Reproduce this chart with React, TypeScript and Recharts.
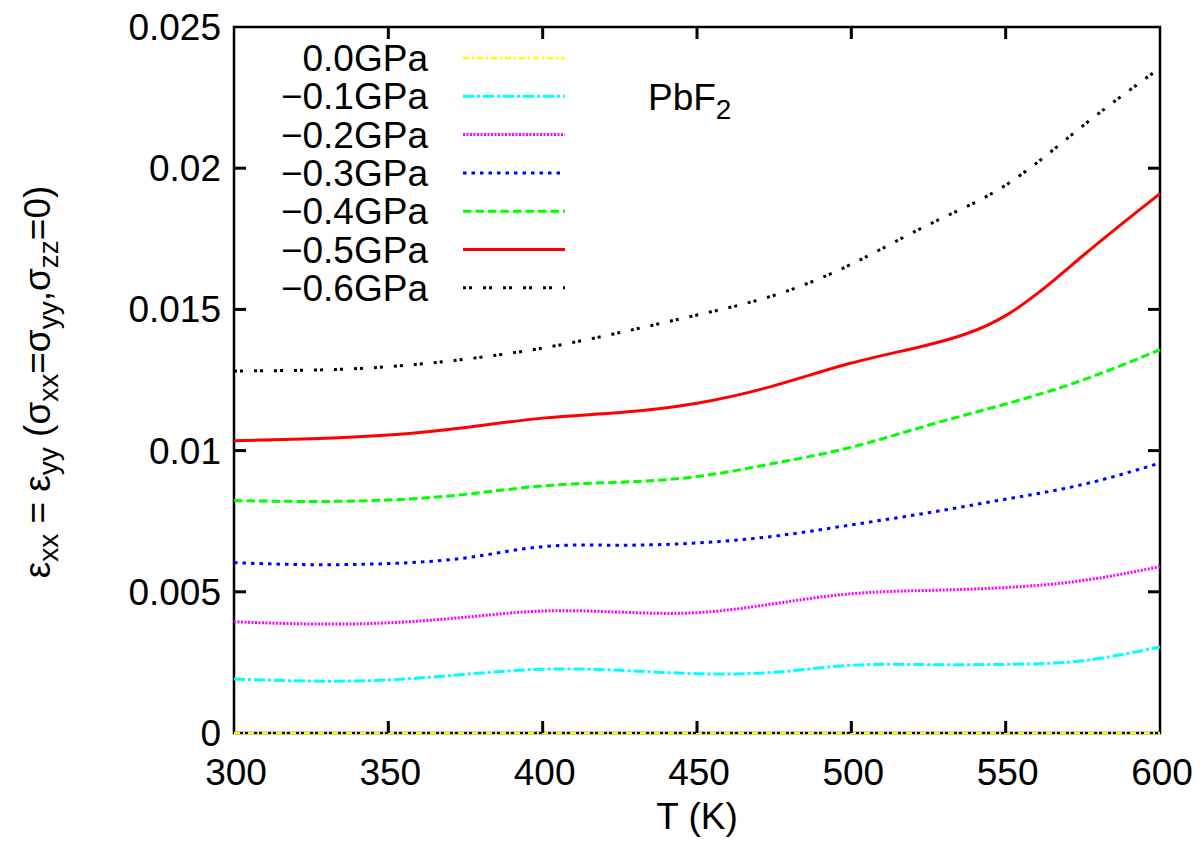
import { LineChart, Line, XAxis, YAxis, Legend, Label, ReferenceArea } from 'recharts';

const FONT = '"Liberation Sans", Arial, Helvetica, sans-serif';
const FS = 37;

const CHART_W = 1204;
const CHART_H = 853;
const MARGIN = { top: 27, right: 44, bottom: 0, left: 100 };
const Y_AXIS_W = 134;
const X_AXIS_H = 120;
const PLOT = {
  left: MARGIN.left + Y_AXIS_W,
  right: CHART_W - MARGIN.right,
  top: MARGIN.top,
  bottom: CHART_H - MARGIN.bottom - X_AXIS_H,
};
const TICK_LEN = 12;

// temperature grid (K)
const TEMPS = [300, 325, 350, 375, 400, 425, 450, 475, 500, 525, 550, 575, 600];

// strain values
const P00 = [0, 0, 0, 0, 0, 0, 0, 0, 0, 0, 0, 0, 0];
const P01 = [0.00191, 0.00184, 0.00188, 0.00208, 0.00226, 0.00222, 0.0021, 0.00215, 0.0024, 0.00242, 0.00243, 0.00256, 0.00305];
const P02 = [0.00394, 0.00386, 0.0039, 0.0041, 0.00432, 0.00428, 0.00426, 0.00458, 0.00493, 0.00505, 0.00515, 0.0054, 0.00589];
const P03 = [0.00603, 0.00596, 0.006, 0.0062, 0.0066, 0.00665, 0.00673, 0.00697, 0.00737, 0.0078, 0.00828, 0.0088, 0.00956];
const P04 = [0.00823, 0.0082, 0.00825, 0.00845, 0.00875, 0.00888, 0.00908, 0.00955, 0.01012, 0.0109, 0.01165, 0.0125, 0.01357];
const P05 = [0.01035, 0.01042, 0.01055, 0.01082, 0.01115, 0.01135, 0.01168, 0.0123, 0.0131, 0.01375, 0.01478, 0.0169, 0.0191];
const P06 = [0.01282, 0.01285, 0.01297, 0.01324, 0.01363, 0.01418, 0.0148, 0.0155, 0.0166, 0.018, 0.0194, 0.0215, 0.02355];

const X_TICKS = [300, 350, 400, 450, 500, 550, 600];
const Y_TICKS = [0, 0.005, 0.01, 0.015, 0.02, 0.025];
const X_DOMAIN: [number, number] = [300, 600];
const Y_DOMAIN: [number, number] = [0, 0.025];

const SERIES = [
  { key: 'p00', name: '0.0GPa', values: P00, color: '#ffff00', dash: '6 3 2 3', width: 2.5 },
  { key: 'p01', name: '\u22120.1GPa', values: P01, color: '#00ffff', dash: '11 3 3 3', width: 3 },
  { key: 'p02', name: '\u22120.2GPa', values: P02, color: '#ff00ff', dash: '2 1.5', width: 3 },
  { key: 'p03', name: '\u22120.3GPa', values: P03, color: '#0000ff', dash: '3.5 5', width: 3 },
  { key: 'p04', name: '\u22120.4GPa', values: P04, color: '#00ff00', dash: '8.5 4', width: 3 },
  { key: 'p05', name: '\u22120.5GPa', values: P05, color: '#ff0000', dash: undefined, width: 3 },
  { key: 'p06', name: '\u22120.6GPa', values: P06, color: '#000000', dash: '3 3 3 11', width: 3 },
];

const data = TEMPS.map((t, i) => {
  const row: Record<string, number> = { t };
  SERIES.forEach((s) => {
    row[s.key] = s.values[i];
  });
  return row;
});

const textStyle = { fontFamily: FONT, fontSize: FS, fill: '#000' };

// tick positions for the inward marks on all four sides
const xPos = (v: number) =>
  PLOT.left + ((v - X_DOMAIN[0]) / (X_DOMAIN[1] - X_DOMAIN[0])) * (PLOT.right - PLOT.left);
const yPos = (v: number) =>
  PLOT.bottom - ((v - Y_DOMAIN[0]) / (Y_DOMAIN[1] - Y_DOMAIN[0])) * (PLOT.bottom - PLOT.top);

function BottomTick(props: any) {
  const { x, y, payload } = props;
  return (
    <text x={x + 2} y={y + 52} textAnchor="middle" style={textStyle}>
      {payload.value}
    </text>
  );
}

function LeftTick(props: any) {
  const { x, y, payload } = props;
  return (
    <text x={x - 13} y={y + 13} textAnchor="end" style={textStyle}>
      {payload.value}
    </text>
  );
}

function YTitle() {
  const sub = { fontSize: 28 };
  return (
    <text transform="rotate(-90, 50, 382)" x={50} y={382} textAnchor="middle" style={{ ...textStyle, fontSize: 37 }}>
      <tspan>ε</tspan>
      <tspan dy={8} style={sub}>xx</tspan>
      <tspan dy={-8}> = ε</tspan>
      <tspan dy={8} style={sub}>yy</tspan>
      <tspan dy={-8}> (σ</tspan>
      <tspan dy={8} style={sub}>xx</tspan>
      <tspan dy={-8}>=σ</tspan>
      <tspan dy={8} style={sub}>yy</tspan>
      <tspan dy={-8}>,σ</tspan>
      <tspan dy={8} style={sub}>zz</tspan>
      <tspan dy={-8}>=0)</tspan>
    </text>
  );
}

// key, title and the mirrored inward tick marks
function Overlay() {
  const mark = { stroke: '#000', strokeWidth: 3 };
  return (
    <svg width={CHART_W} height={CHART_H} style={{ display: 'block', pointerEvents: 'none' }}>
      {X_TICKS.slice(1, -1).map((v) => (
        <g key={`x${v}`}>
          <line x1={xPos(v)} x2={xPos(v)} y1={PLOT.bottom} y2={PLOT.bottom - TICK_LEN} {...mark} />
          <line x1={xPos(v)} x2={xPos(v)} y1={PLOT.top} y2={PLOT.top + TICK_LEN} {...mark} />
        </g>
      ))}
      {Y_TICKS.slice(1, -1).map((v) => (
        <g key={`y${v}`}>
          <line x1={PLOT.left} x2={PLOT.left + TICK_LEN} y1={yPos(v)} y2={yPos(v)} {...mark} />
          <line x1={PLOT.right} x2={PLOT.right - TICK_LEN} y1={yPos(v)} y2={yPos(v)} {...mark} />
        </g>
      ))}
      {SERIES.map((s, i) => {
        const cy = 58 + i * 38.3;
        return (
          <g key={s.key}>
            <text x={428} y={cy + 13} textAnchor="end" style={textStyle}>
              {s.name}
            </text>
            <line
              x1={463}
              x2={565}
              y1={cy}
              y2={cy}
              stroke={s.color}
              strokeWidth={s.width}
              strokeDasharray={s.dash}
            />
          </g>
        );
      })}
      <text x={648} y={110} style={textStyle}>
        PbF
        <tspan dy={9} style={{ fontSize: 28 }}>2</tspan>
      </text>
    </svg>
  );
}

export default function App() {
  return (
    <div style={{ position: 'absolute', left: 0, top: 0, background: '#fff' }}>
      <LineChart width={CHART_W} height={CHART_H} data={data} margin={MARGIN}>
        <XAxis
          dataKey="t"
          type="number"
          domain={X_DOMAIN}
          ticks={X_TICKS}
          height={X_AXIS_H}
          tickSize={0}
          tickMargin={0}
          tick={<BottomTick />}
          axisLine={false}
          tickLine={false}
        >
          <Label
            content={({ viewBox }: any) => (
              <text x={viewBox.x + viewBox.width / 2} y={viewBox.y + 96} textAnchor="middle" style={textStyle}>
                T (K)
              </text>
            )}
          />
        </XAxis>
        <YAxis
          type="number"
          domain={Y_DOMAIN}
          ticks={Y_TICKS}
          width={Y_AXIS_W}
          tickSize={0}
          tickMargin={0}
          tick={<LeftTick />}
          axisLine={false}
          tickLine={false}
        >
          <Label content={() => <YTitle />} />
        </YAxis>
        <ReferenceArea
          x1={X_DOMAIN[0]}
          x2={X_DOMAIN[1]}
          y1={Y_DOMAIN[0]}
          y2={Y_DOMAIN[1]}
          fill="none"
          stroke="#000"
          strokeWidth={2.5}
          ifOverflow="visible"
        />
        <Legend
          layout="vertical"
          align="center"
          verticalAlign="middle"
          content={() => <Overlay />}
          wrapperStyle={{ left: 0, top: 0, width: CHART_W, height: CHART_H, pointerEvents: 'none' }}
        />
        {SERIES.map((s) => (
          <Line
            key={s.key}
            type="natural"
            dataKey={s.key}
            name={s.name}
            stroke={s.color}
            strokeWidth={s.width}
            strokeDasharray={s.dash}
            dot={false}
            activeDot={false}
            isAnimationActive={false}
          />
        ))}
      </LineChart>
    </div>
  );
}
